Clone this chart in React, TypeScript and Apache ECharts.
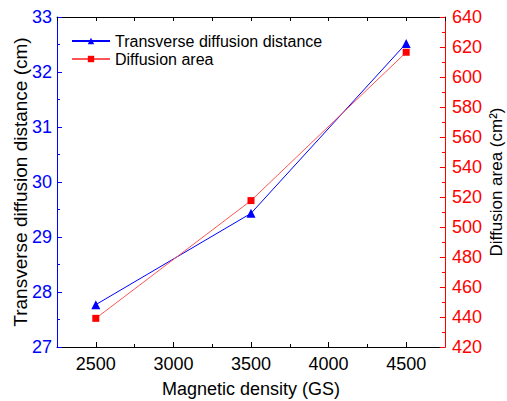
import React, { useEffect, useRef } from "react";
import * as echarts from "echarts";

const magneticDensity = [2500, 3500, 4500];
const transverseDistance = [27.77, 29.43, 32.52];
const diffusionArea = [439.1, 517.6, 616.5];
const xMajorTicks = [2500, 3000, 3500, 4000, 4500];
const xMinorTicks = [2750, 3250, 3750, 4250];

const FONT = "Liberation Sans, Arial, sans-serif";

export default function App() {
  const ref = useRef<HTMLDivElement>(null);
  useEffect(() => {
    if (!ref.current) return;
    const chart = echarts.init(ref.current, null, { renderer: "svg" });
    const baseX = { type: "value", min: 2250, max: 4750, interval: 250 };
    chart.setOption({
      animation: false,
      backgroundColor: "#ffffff",
      textStyle: { fontFamily: FONT },
      grid: { left: 57, right: 62, top: 17, bottom: 54, containLabel: false, outerBoundsMode: "none" },
      legend: {
        left: 66,
        top: 28,
        orient: "vertical",
        itemWidth: 38,
        itemHeight: 8,
        itemGap: 2,
        textStyle: { fontSize: 16, color: "#000", fontFamily: FONT },
        data: ["Transverse diffusion distance", "Diffusion area"],
      },
      xAxis: [
        {
          ...baseX,
          position: "bottom",
          name: "Magnetic density (GS)",
          nameLocation: "middle",
          nameGap: 33,
          nameMoveOverlap: false,
          nameTextStyle: { fontSize: 18, color: "#000", fontFamily: FONT },
          axisLine: { lineStyle: { color: "#000", width: 1 } },
          axisTick: { inside: true, length: 5, customValues: xMajorTicks, lineStyle: { color: "#000" } },
          axisLabel: {
            customValues: xMajorTicks,
            formatter: (v: number) => String(v),
            fontSize: 18,
            color: "#000",
            margin: 8,
            fontFamily: FONT,
          },
          splitLine: { show: false },
        },
        {
          ...baseX,
          position: "bottom",
          axisLine: { show: false },
          axisTick: { inside: true, length: 3, customValues: xMinorTicks, lineStyle: { color: "#000" } },
          axisLabel: { show: false },
          splitLine: { show: false },
        },
        {
          ...baseX,
          position: "top",
          axisLine: { lineStyle: { color: "#000", width: 1 } },
          axisTick: { inside: true, length: 4, lineStyle: { color: "#000" } },
          axisLabel: { show: false },
          splitLine: { show: false },
        },
      ],
      yAxis: [
        {
          type: "value",
          min: 27,
          max: 33,
          interval: 1,
          position: "left",
          name: "Transverse diffusion distance (cm)",
          nameLocation: "middle",
          nameGap: 27,
          nameMoveOverlap: false,
          nameTextStyle: { fontSize: 19, color: "#000", fontFamily: FONT },
          axisLine: { show: true, lineStyle: { color: "#0000ff", width: 1 } },
          axisTick: { show: true, inside: true, length: 5, lineStyle: { color: "#0000ff" } },
          minorTick: { show: true, splitNumber: 2, length: 3, lineStyle: { color: "#0000ff" } },
          axisLabel: { fontSize: 18, color: "#0000ff", margin: 5, fontFamily: FONT },
          splitLine: { show: false },
        },
        {
          type: "value",
          min: 420,
          max: 640,
          interval: 20,
          position: "right",
          name: "Diffusion area (cm²)",
          nameLocation: "middle",
          nameGap: 43,
          nameRotate: 90,
          nameMoveOverlap: false,
          nameTextStyle: { fontSize: 17, color: "#000", fontFamily: FONT },
          axisLine: { show: true, lineStyle: { color: "#ff0000", width: 1 } },
          axisTick: { show: true, inside: true, length: 5, lineStyle: { color: "#ff0000" } },
          minorTick: { show: true, splitNumber: 2, length: 3, lineStyle: { color: "#ff0000" } },
          axisLabel: { fontSize: 18, color: "#ff0000", margin: 7, fontFamily: FONT },
          splitLine: { show: false },
        },
      ],
      series: [
        {
          name: "Transverse diffusion distance",
          type: "line",
          xAxisIndex: 0,
          yAxisIndex: 0,
          data: magneticDensity.map((x, i) => [x, transverseDistance[i]]),
          symbol: "triangle",
          symbolSize: 9,
          itemStyle: { color: "#0000ff" },
          lineStyle: { color: "#0000ff", width: 1 },
        },
        {
          name: "Diffusion area",
          type: "line",
          xAxisIndex: 0,
          yAxisIndex: 1,
          data: magneticDensity.map((x, i) => [x, diffusionArea[i]]),
          symbol: "rect",
          symbolSize: 7,
          itemStyle: { color: "#ff0000" },
          lineStyle: { color: "#ff5555", width: 1 },
        },
      ],
    });
    return () => chart.dispose();
  }, []);
  return <div ref={ref} style={{ width: 507, height: 401, position: "absolute", left: 0, top: 0 }} />;
}
